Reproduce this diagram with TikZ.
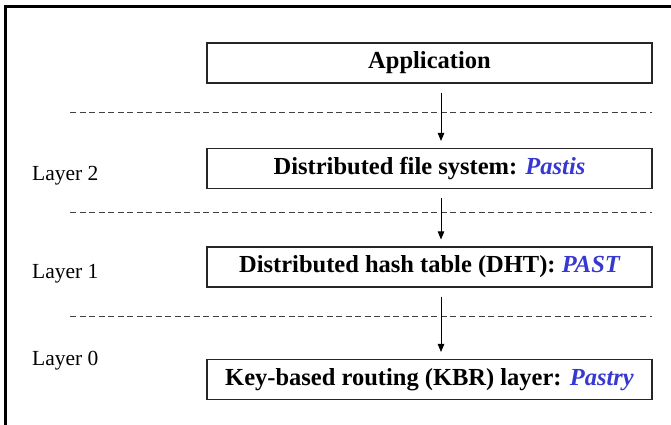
\documentclass[tikz,border=0pt]{standalone}
\usepackage{fontspec}
\setmainfont{Liberation Serif}
\usepackage{xcolor}
\usepackage{tikz}
\usetikzlibrary{arrows.meta,calc}
\definecolor{pastblue}{RGB}{55,55,210}

\begin{document}
\begin{tikzpicture}[x=1pt, y=-1pt,
    layerbox/.style={draw=black!85, line width=1.1pt, minimum width=445pt, minimum height=40pt, inner sep=0pt,
      font=\fontsize{24.5}{28}\selectfont\bfseries},
    layerlabel/.style={anchor=base west, inner sep=0pt, font=\fontsize{21.5}{24}\selectfont},
    sep/.style={dashed, dash pattern=on 6pt off 3.5pt, line width=0.8pt, black!75},
    down/.style={-{Triangle[width=6.5pt,length=8pt]}, line width=0.8pt, shorten <=9pt, shorten >=7pt}]
  \useasboundingbox (0,0) rectangle (671,425);
  \draw[line width=3pt] (5,425) -- (5,7) -- (671,7);

  \node[layerbox] (app) at (429.5,63) {Application};
  \node[layerbox] (pastis) at (429.5,168.5) {Distributed file system: \textcolor{pastblue}{\itshape Pastis}};
  \node[layerbox] (past) at (429.5,267) {Distributed hash table (DHT): \textcolor{pastblue}{\itshape PAST}};
  \node[layerbox] (pastry) at (429.5,379.5) {Key-based routing (KBR) layer: \textcolor{pastblue}{\itshape Pastry}};

  % Separators
  \foreach \y in {112,212,316} \draw[sep] (70,\y) -- (652,\y);

  % Arrows
  \coordinate (ax) at (441,0);
  \draw[down] (app.south -| ax) -- (pastis.north -| ax);
  \draw[down] (pastis.south -| ax) -- (past.north -| ax);
  \draw[down] (past.south -| ax) -- (pastry.north -| ax);

  \node[layerlabel] (l2) at (32,180) {Layer 2};
  \node[layerlabel] (l1) at (32,278) {Layer 1};
  \node[layerlabel] (l0) at (32,365) {Layer 0};
\end{tikzpicture}
\end{document}
